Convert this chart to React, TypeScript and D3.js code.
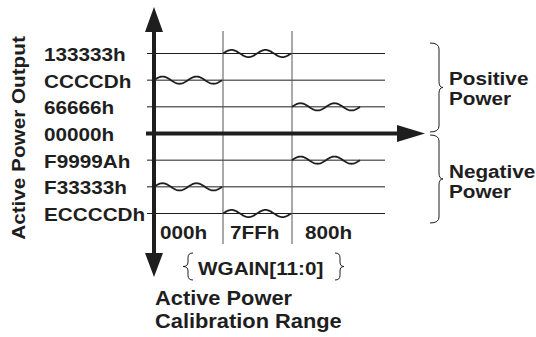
import React from "react";
import * as d3 from "d3";

const levelLabels = ["133333h", "CCCCDh", "66666h", "00000h", "F9999Ah", "F33333h", "ECCCCDh"];
const levelValues = [3, 2, 1, 0, -1, -2, -3];
const gainCodes = ["000h", "7FFh", "800h"];
const positiveLevel = [2, 3, 1];
const negativeLevel = [-2, -3, -1];

const W = 536;
const H = 337;
const SX = 1.12;
const FONT = "'Liberation Sans', Arial, Helvetica, sans-serif";
const INK = "#1e1e1e";

const y = d3.scaleLinear().domain([-3, 3]).range([213.5, 53.5]);
const x = d3.scaleBand().domain(gainCodes).range([154, 361]).paddingInner(0).paddingOuter(0);

function T({ x: tx, y: ty, children, size = 18.5, anchor = "start", rotate = 0 }: any) {
  return (
    <text
      transform={`translate(${tx},${ty}) rotate(${rotate}) scale(${SX},1)`}
      textAnchor={anchor}
      fontSize={size}
      fontFamily={FONT}
      fontWeight="bold"
      fill={INK}
    >
      {children}
    </text>
  );
}

function bracePath(x0: number, y1: number, y2: number, dir: number, xm: number, xt: number) {
  const ym = (y1 + y2) / 2;
  const r = Math.min(6, (y2 - y1) / 6);
  return `M${x0},${y1} Q${xm},${y1} ${xm},${y1 + r} L${xm},${ym - r} Q${xm},${ym} ${xt},${ym} Q${xm},${ym} ${xm},${ym + r} L${xm},${y2 - r} Q${xm},${y2} ${x0},${y2}`;
}

function wavePath(code: string, level: number) {
  const x0 = x(code)!;
  const bw = x.bandwidth() - 1;
  const amp = 3.6;
  const pts = d3.range(0, 81).map((i) => {
    const t = i / 80;
    return [x0 + t * bw, y(level) - amp * Math.sin(t * 4 * Math.PI)] as [number, number];
  });
  return d3.line()(pts)!;
}

export default function App() {
  const axisX = x.range()[0];
  const zeroY = y(0);
  const gridRight = 385;
  const gridLeft = 147;
  return (
    <svg width={W} height={H} style={{ position: "absolute", left: 0, top: 0, background: "#fff" }}>
      {levelValues.map((v, i) =>
        v === 0 ? null : (
          <line key={i} x1={gridLeft} x2={gridRight} y1={y(v)} y2={y(v)} stroke={INK} strokeWidth={1} />
        )
      )}
      {gainCodes.slice(1).map((c) => (
        <line key={c} x1={x(c)} x2={x(c)} y1={31} y2={244} stroke="#555" strokeWidth={1} />
      ))}
      {gainCodes.map((c, i) => (
        <g key={c}>
          <path d={wavePath(c, positiveLevel[i])} fill="none" stroke={INK} strokeWidth={1.8} />
          <path d={wavePath(c, negativeLevel[i])} fill="none" stroke={INK} strokeWidth={1.8} />
        </g>
      ))}
      <line x1={146} x2={400} y1={zeroY} y2={zeroY} stroke={INK} strokeWidth={4} />
      <path d={`M397,${zeroY - 8.5} L425,${zeroY} L397,${zeroY + 8.5} Z`} fill={INK} />
      <line x1={axisX} x2={axisX} y1={30} y2={255} stroke={INK} strokeWidth={4} />
      <path d={`M${axisX - 9},32 L${axisX},7 L${axisX + 9},32 Z`} fill={INK} />
      <path d={`M${axisX - 9},253 L${axisX},277 L${axisX + 9},253 Z`} fill={INK} />

      {levelLabels.map((l, i) => (
        <T key={l} x={44} y={y(levelValues[i]) + 7.5}>
          {l}
        </T>
      ))}
      {gainCodes.map((c, i) => (
        <T key={c} x={x(c)! + [6, 7, 13][i]} y={239}>
          {c}
        </T>
      ))}
      <T x={25} y={138} rotate={-90} anchor="middle">
        Active Power Output
      </T>

      <path d={bracePath(193, 253, 280, -1, 188, 183)} fill="none" stroke={INK} strokeWidth={1} />
      <path d={bracePath(335, 253, 280, 1, 340, 344)} fill="none" stroke={INK} strokeWidth={1} />
      <T x={198} y={275}>WGAIN[11:0]</T>
      <T x={155} y={305} size={19.5}>Active Power</T>
      <T x={155} y={328} size={19.5}>Calibration Range</T>

      <path d={bracePath(430, 43, 132, 1, 439, 443)} fill="none" stroke={INK} strokeWidth={1} />
      <path d={bracePath(430, 135, 223, 1, 439, 443)} fill="none" stroke={INK} strokeWidth={1} />
      <T x={449} y={85}>Positive</T>
      <T x={449} y={105}>Power</T>
      <T x={449} y={178}>Negative</T>
      <T x={449} y={198}>Power</T>
    </svg>
  );
}
